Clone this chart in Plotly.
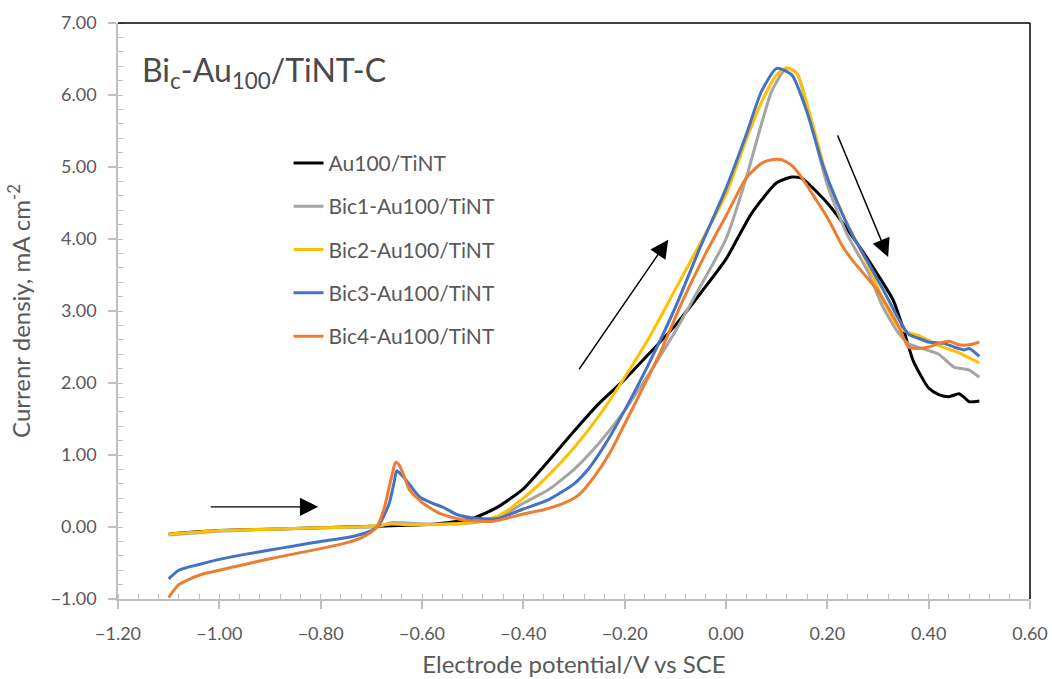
import plotly.graph_objects as go

# Forward linear sweep, current density (mA cm-2) vs potential (V vs SCE)
labels = ["Au100/TiNT", "Bic1-Au100/TiNT", "Bic2-Au100/TiNT", "Bic3-Au100/TiNT", "Bic4-Au100/TiNT"]
colors = ["#000000", "#A5A5A5", "#FFC000", "#4472C4", "#ED7D31"]

v_au = [-1.10, -1.05, -1.00, -0.90, -0.80, -0.70, -0.60, -0.55, -0.50, -0.45, -0.40, -0.35, -0.30,
        -0.25, -0.20, -0.15, -0.10, -0.05, 0.00, 0.05, 0.10, 0.13, 0.15, 0.20, 0.25, 0.30, 0.33,
        0.35, 0.37, 0.40, 0.42, 0.44, 0.46, 0.47, 0.48, 0.50]
j_au = [-0.10, -0.07, -0.05, -0.03, -0.01, 0.01, 0.03, 0.06, 0.12, 0.28, 0.53, 0.92, 1.33,
        1.72, 2.05, 2.42, 2.80, 3.25, 3.72, 4.35, 4.78, 4.86, 4.84, 4.50, 4.03, 3.50, 3.15,
        2.75, 2.30, 1.93, 1.84, 1.81, 1.85, 1.80, 1.74, 1.75]

v_bi1 = [-1.10, -1.00, -0.90, -0.80, -0.70, -0.68, -0.66, -0.62, -0.55, -0.50, -0.45, -0.40, -0.35,
         -0.30, -0.25, -0.20, -0.15, -0.10, -0.05, 0.00, 0.04, 0.07, 0.09, 0.11, 0.12, 0.14, 0.17,
         0.20, 0.24, 0.28, 0.31, 0.34, 0.36, 0.40, 0.42, 0.45, 0.48, 0.50]
j_bi1 = [-0.11, -0.06, -0.03, -0.01, 0.00, 0.02, 0.06, 0.05, 0.04, 0.06, 0.13, 0.33, 0.52,
         0.80, 1.17, 1.62, 2.15, 2.72, 3.35, 4.00, 4.85, 5.60, 6.05, 6.30, 6.37, 6.30, 5.55,
         4.75, 4.05, 3.55, 3.05, 2.70, 2.55, 2.45, 2.40, 2.22, 2.18, 2.08]

v_bi2 = [-1.10, -1.00, -0.90, -0.80, -0.70, -0.66, -0.62, -0.55, -0.50, -0.45, -0.40, -0.35, -0.30,
         -0.25, -0.20, -0.15, -0.10, -0.05, 0.00, 0.04, 0.07, 0.10, 0.12, 0.14, 0.17, 0.20, 0.24,
         0.28, 0.31, 0.34, 0.36, 0.38, 0.42, 0.46, 0.48, 0.50]
j_bi2 = [-0.10, -0.05, -0.03, -0.01, 0.01, 0.04, 0.03, 0.04, 0.07, 0.15, 0.40, 0.72, 1.10,
         1.55, 2.08, 2.65, 3.30, 3.95, 4.62, 5.38, 5.90, 6.28, 6.38, 6.30, 5.62, 4.85, 4.20,
         3.65, 3.15, 2.78, 2.70, 2.66, 2.52, 2.42, 2.35, 2.28]

v_bi3 = [-1.10, -1.08, -1.04, -1.00, -0.95, -0.90, -0.85, -0.80, -0.75, -0.72, -0.70, -0.685,
         -0.665, -0.655, -0.65, -0.64, -0.63, -0.605, -0.58, -0.56, -0.53, -0.49, -0.45, -0.40,
         -0.35, -0.30, -0.27, -0.24, -0.20, -0.15, -0.10, -0.05, 0.00, 0.04, 0.07, 0.10, 0.13,
         0.16, 0.19, 0.22, 0.25, 0.28, 0.31, 0.34, 0.36, 0.38, 0.40, 0.43, 0.45, 0.47, 0.48, 0.50]
j_bi3 = [-0.72, -0.60, -0.52, -0.45, -0.38, -0.32, -0.26, -0.20, -0.15, -0.10, -0.05, 0.03,
         0.32, 0.62, 0.78, 0.72, 0.64, 0.42, 0.33, 0.28, 0.17, 0.12, 0.12, 0.25,
         0.38, 0.60, 0.82, 1.13, 1.62, 2.30, 3.05, 3.90, 4.70, 5.45, 6.05, 6.37, 6.28,
         5.76, 5.05, 4.50, 4.05, 3.68, 3.30, 2.90, 2.68, 2.62, 2.57, 2.55, 2.50, 2.46, 2.48, 2.37]

v_bi4 = [-1.10, -1.08, -1.04, -1.00, -0.95, -0.90, -0.85, -0.80, -0.75, -0.72, -0.70, -0.69,
         -0.675, -0.66, -0.652, -0.645, -0.635, -0.625, -0.60, -0.565, -0.52, -0.46, -0.40,
         -0.36, -0.32, -0.29, -0.26, -0.23, -0.20, -0.17, -0.13, -0.085, -0.04, 0.00, 0.04,
         0.07, 0.09, 0.11, 0.13, 0.15, 0.18, 0.20, 0.23, 0.25, 0.28, 0.30, 0.32, 0.34, 0.36,
         0.38, 0.40, 0.42, 0.44, 0.46, 0.48, 0.50]
j_bi4 = [-0.98, -0.80, -0.67, -0.60, -0.52, -0.44, -0.37, -0.30, -0.22, -0.15, -0.07, -0.01,
         0.25, 0.70, 0.90, 0.86, 0.70, 0.52, 0.34, 0.19, 0.10, 0.08, 0.18,
         0.24, 0.33, 0.45, 0.70, 1.02, 1.43, 1.85, 2.42, 3.15, 3.80, 4.32, 4.85,
         5.05, 5.10, 5.10, 5.02, 4.85, 4.52, 4.30, 3.90, 3.70, 3.45, 3.28, 3.05, 2.80, 2.50,
         2.48, 2.50, 2.55, 2.58, 2.53, 2.53, 2.57]

series_v = [v_au, v_bi1, v_bi2, v_bi3, v_bi4]
series_j = [j_au, j_bi1, j_bi2, j_bi3, j_bi4]

x_ticks = [-1.2, -1.0, -0.8, -0.6, -0.4, -0.2, 0.0, 0.2, 0.4, 0.6]
y_ticks = [-1, 0, 1, 2, 3, 4, 5, 6, 7]

FONT = "Lato, Calibri, Carlito, sans-serif"
TXT = "#595959"
AXIS = "#BFBFBF"

fig = go.Figure()
for i, (name, col, vv, jj) in enumerate(zip(labels, colors, series_v, series_j)):
    fig.add_trace(go.Scatter(
        x=vv, y=jj, mode="lines", name=name, legendgroup=f"g{i}",
        line=dict(color=col, width=3, shape="spline", smoothing=0.6),
    ))

# Sweep-direction arrows (tail -> tip in data coordinates)
arrows = [((-1.02, 0.28), (-0.805, 0.28)),
          ((-0.292, 2.17), (-0.114, 3.99)),
          ((0.219, 5.46), (0.320, 3.75))]
for (tx, ty), (hx, hy) in arrows:
    fig.add_annotation(x=hx, y=hy, ax=tx, ay=ty, xref="x", yref="y", axref="x", ayref="y",
                       text="", showarrow=True, arrowhead=2, arrowsize=2.6, arrowwidth=1.4,
                       arrowcolor="#000000")

fig.add_annotation(x=0.024, y=0.915, xref="paper", yref="paper", xanchor="left", yanchor="middle",
                   text="Bi<sub>c</sub>-Au<sub>100</sub>/TiNT-C", showarrow=False,
                   font=dict(family=FONT, size=32, color="#4A4A4A"))

# Plot-area border along the top and right edges
fig.add_shape(type="line", xref="paper", yref="paper", x0=0, x1=1, y0=1, y1=1,
              line=dict(color="#000000", width=1.5))
fig.add_shape(type="line", xref="paper", yref="paper", x0=1, x1=1, y0=0, y1=1,
              line=dict(color="#000000", width=1.5))

fig.update_layout(
    width=1052, height=679,
    margin=dict(l=118, r=22, t=23, b=80),
    paper_bgcolor="white", plot_bgcolor="white",
    font=dict(family=FONT, color=TXT),
    legend=dict(x=0.187, y=0.792, xanchor="left", yanchor="top", bgcolor="rgba(0,0,0,0)",
                font=dict(family=FONT, size=21, color=TXT), tracegroupgap=13,
                traceorder="grouped"),
    xaxis=dict(range=[-1.2, 0.6], tickvals=x_ticks, tickformat=".2f", showgrid=False,
               zeroline=False, showline=True, linecolor=AXIS, linewidth=1.5, automargin=False,
               ticks="outside", ticklen=8, tickcolor=AXIS, tickwidth=1.5,
               ticklabelstandoff=10,
               minor=dict(dtick=0.04, tick0=0, ticks="inside", ticklen=5, tickcolor=AXIS, tickwidth=1),
               tickfont=dict(family=FONT, size=18, color=TXT),
               title=dict(text="Electrode potential/V vs SCE", standoff=13,
                          font=dict(family=FONT, size=24, color=TXT))),
    yaxis=dict(range=[-1, 7], tickvals=y_ticks, tickformat=".2f", showgrid=False,
               zeroline=False, showline=True, linecolor=AXIS, linewidth=1.5, automargin=False,
               ticks="outside", ticklen=8, tickcolor=AXIS, tickwidth=1.5,
               ticklabelstandoff=8,
               minor=dict(dtick=0.2, tick0=0, ticks="inside", ticklen=5, tickcolor=AXIS, tickwidth=1),
               tickfont=dict(family=FONT, size=18, color=TXT),
               title=dict(text="Currenr densiy, mA cm<sup>-2</sup>", standoff=13,
                          font=dict(family=FONT, size=24, color=TXT))),
)

fig.write_html("out.html")
